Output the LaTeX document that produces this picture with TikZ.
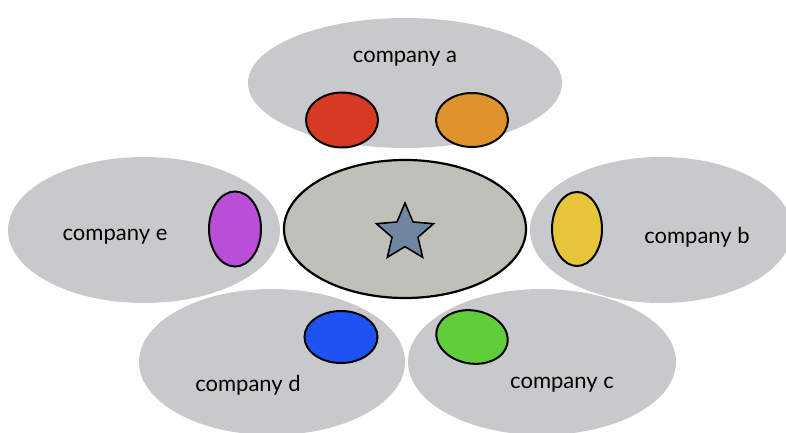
\documentclass[tikz,border=0pt]{standalone}
\usepackage{fontspec}
\setmainfont{Lato}
\usepackage{tikz}
\usetikzlibrary{shapes.geometric}
\usetikzlibrary{positioning}

\definecolor{bubblegray}{HTML}{C8C9CB}
\definecolor{hubgray}{HTML}{C0C0BB}
\definecolor{stargray}{HTML}{6F86A3}
\definecolor{cred}{HTML}{D63A22}
\definecolor{corange}{HTML}{E0922E}
\definecolor{cpurple}{HTML}{B94FD8}
\definecolor{cyellow}{HTML}{E6C53B}
\definecolor{cblue}{HTML}{1F52F5}
\definecolor{cgreen}{HTML}{5FCE3A}

\begin{document}
\begin{tikzpicture}[x=1pt,y=-1pt,font=\fontsize{22}{26}\selectfont]
\tikzstyle{company}=[ellipse, fill=bubblegray, inner sep=0pt]
\tikzstyle{member}=[ellipse, draw=black, line width=2pt, inner sep=0pt]
\tikzstyle{label}=[text=black]

\useasboundingbox (0,0) rectangle (786,433);

% the five companies
\node[company, minimum width=314, minimum height=130] (a) at (405,83)  {};
\node[company, minimum width=272, minimum height=146] (e) at (144,230) {};
\node[company, minimum width=262, minimum height=146] (b) at (661,230) {};
\node[company, minimum width=266, minimum height=146] (d) at (272,362) {};
\node[company, minimum width=268, minimum height=146] (c) at (542,362) {};

% shared hub in the middle
\node[ellipse, draw=black, line width=2.2pt, fill=hubgray, inner sep=0pt,
      minimum width=242, minimum height=138] (hub) at (405,229) {};
\node[star, star points=5, star point ratio=2.2, draw=black, line width=1.6pt,
      fill=stargray, inner sep=0pt, minimum size=60] (s) at (405,233) {};

% members of each company
\node[member, fill=cred,    minimum width=72, minimum height=55] (ra) at (342,120) {};
\node[member, fill=corange, minimum width=72, minimum height=54] (oa) at (472,120) {};
\node[member, fill=cpurple, minimum width=52, minimum height=75] (pe) at (235,229) {};
\node[member, fill=cyellow, minimum width=50, minimum height=74] (yb) at (577,229) {};
\node[member, fill=cblue,   minimum width=73, minimum height=52] (bd) at (341,337) {};
\node[member, fill=cgreen,  minimum width=72, minimum height=53, rotate=-10] (gc) at (472,337) {};

% names
\node[label] (na) at (405,59)  {company a};
\node[label] (ne) at (115,237) {company e};
\node[label] (nb) at (697,237) {company b};
\node[label] (nd) at (248,385) {company d};
\node[label] (nc) at (562,385) {company c};

\end{tikzpicture}
\end{document}
